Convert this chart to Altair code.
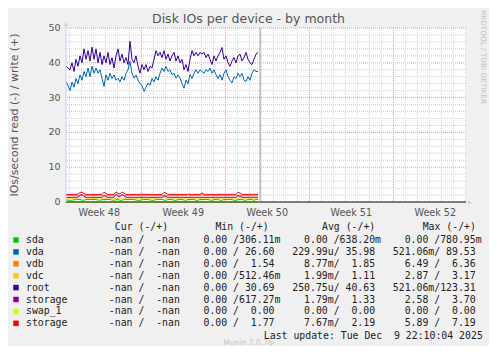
import altair as alt
import pandas as pd

# ---------------- data ----------------
STEP = 1 / 6            # one consolidated sample every 4 hours
N = 97
days = [round(i * STEP, 4) for i in range(N)]      # days since the left edge of the graph
SPAN = 400 / 12.0                                   # 33.3 days shown

root_w = [39, 38.5, 38, 40, 37.5, 41, 39, 42, 40, 44,
          41, 43.5, 40.5, 44.5, 41, 44, 40, 43, 39.5, 42,
          40, 43, 39.5, 41.5, 38.5, 42, 44, 40.5, 42.5, 40,
          41.5, 39.5, 46.2, 41, 40, 42, 39, 37, 39.5, 38,
          39.5, 37.5, 39, 38.5, 41, 43.5, 42, 43, 41.5, 43.5,
          41, 42.5, 40.5, 42, 43, 40.5, 42, 40, 41, 38,
          39.5, 37.5, 41, 43.5, 42, 43, 42, 43, 42.5, 43,
          41.5, 42.5, 41, 39.5, 42, 40.5, 42, 43, 44.4, 41,
          42, 40, 39, 40.5, 41.5, 40, 42, 42.5, 40.5, 41.5,
          43, 41, 40, 39.5, 41, 42.5, 43]

vda_w = [34.6, 33.5, 32, 34.5, 33, 35.5, 34, 36.5, 35, 37.5,
         36, 38.5, 36, 39, 37, 38.5, 37, 38, 35.5, 33.2,
         36.5, 35, 37, 35.5, 36.5, 35, 35.6, 34.5, 36, 35,
         37, 38, 40.4, 37, 35.6, 36.5, 35, 34, 33.5, 31.8,
         33, 34.2, 33.5, 35.5, 34.5, 36, 35, 37, 38.5, 37.5,
         39, 37.5, 38, 36.6, 37, 35.6, 36.5, 35.6, 34, 32.7,
         35, 34, 36.6, 35.5, 37, 38, 37, 38, 37.5, 37,
         38, 37.5, 38.5, 37, 38, 36.6, 35.5, 36.6, 35, 37,
         38, 36, 35, 34.2, 36, 35.5, 37, 36, 37, 35,
         34.6, 36, 35, 37, 38, 37.5, 37.5]

storage2_w = [2.2, 2.2, 2.15, 2.2, 2.2, 2.2, 2.25, 2.7, 2.9, 2.4,
              2.2, 2.2, 2.2, 2.15, 2.2, 2.2, 2.2, 2.2, 2.2, 2.8,
              2.4, 2.2, 2.2, 2.2, 2.2, 2.9, 2.5, 2.3, 2.9, 2.6,
              2.2, 2.2, 2.2, 2.15, 2.2, 2.2, 2.2, 2.2, 2.25, 2.2,
              2.2, 2.2, 2.2, 2.2, 2.2, 2.15, 2.2, 2.2, 2.2, 2.8,
              2.5, 2.2, 2.2, 2.2, 2.2, 2.2, 2.15, 2.2, 2.2, 2.2,
              2.2, 2.2, 2.2, 2.2, 2.2, 2.2, 2.2, 2.2, 2.6, 2.2,
              2.2, 2.2, 2.2, 2.2, 2.15, 2.2, 2.2, 2.2, 2.2, 2.2,
              2.2, 2.2, 2.2, 2.2, 2.2, 2.2, 2.8, 2.6, 2.2, 2.2,
              2.2, 2.2, 2.2, 2.25, 2.2, 2.2, 2.2]

storage1_w = [1.35, 1.35, 1.3, 1.35, 1.35, 1.35, 1.4, 1.9, 2.2, 1.6,
              1.35, 1.35, 1.35, 1.35, 1.35, 1.35, 1.35, 1.35, 1.35, 1.9,
              1.5, 1.35, 1.35, 1.35, 1.35, 2.2, 1.7, 1.5, 2.2, 1.8,
              1.35, 1.35, 1.35, 1.35, 1.35, 1.35, 1.35, 1.35, 1.35, 1.35,
              1.35, 1.35, 1.35, 1.35, 1.35, 1.35, 1.35, 1.35, 1.35, 1.8,
              1.5, 1.35, 1.35, 1.35, 1.35, 1.35, 1.35, 1.35, 1.35, 1.35,
              1.35, 1.35, 1.35, 1.35, 1.35, 1.35, 1.35, 1.35, 1.35, 1.35,
              1.35, 1.35, 1.35, 1.35, 1.35, 1.35, 1.35, 1.35, 1.35, 1.35,
              1.35, 1.35, 1.35, 1.35, 1.35, 1.35, 1.8, 1.6, 1.35, 1.35,
              1.35, 1.35, 1.35, 1.35, 1.35, 1.35, 1.35]

vdb_w = [1.85, 1.85, 1.85, 1.85, 1.85, 1.85, 1.85, 1.9, 1.85, 1.85,
         1.85, 1.85, 1.85, 1.85, 1.85, 1.85, 1.85, 1.85, 1.85, 1.9,
         1.85, 1.85, 1.85, 1.85, 1.85, 2.3, 1.9, 1.85, 1.85, 1.85,
         1.85, 1.85, 1.85, 1.85, 1.85, 1.85, 1.85, 1.85, 1.85, 1.85,
         1.85, 1.85, 1.85, 1.85, 1.85, 1.85, 1.85, 1.85, 1.85, 1.9,
         1.85, 1.85, 1.85, 1.85, 1.85, 1.85, 1.85, 1.85, 1.85, 1.85,
         1.85, 2.2, 1.85, 1.85, 1.85, 1.85, 1.85, 1.85, 2.2, 1.85,
         1.85, 1.85, 1.85, 1.85, 1.85, 1.85, 1.85, 1.85, 1.85, 1.85,
         1.85, 1.85, 1.85, 1.85, 1.85, 1.85, 1.9, 1.85, 1.85, 1.85,
         1.85, 1.85, 1.85, 1.85, 1.85, 1.85, 1.85]

vdc_w = [1.12, 1.12, 1.12, 1.12, 1.12, 1.12, 1.12, 1.2, 1.5, 1.2,
         1.12, 1.12, 1.12, 1.12, 1.12, 1.12, 1.12, 1.12, 1.12, 1.12,
         1.12, 1.12, 1.12, 1.12, 1.12, 1.12, 1.12, 1.12, 1.12, 1.12,
         1.12, 1.12, 1.12, 1.12, 1.12, 1.12, 1.12, 1.12, 1.12, 1.12,
         1.12, 1.12, 1.12, 1.12, 1.12, 1.12, 1.12, 1.12, 1.12, 1.4,
         1.12, 1.12, 1.12, 1.12, 1.12, 1.12, 1.12, 1.12, 1.12, 1.12,
         1.12, 1.12, 1.12, 1.12, 1.12, 1.12, 1.12, 1.12, 1.12, 1.12,
         1.12, 1.12, 1.12, 1.12, 1.12, 1.12, 1.12, 1.12, 1.12, 1.12,
         1.12, 1.12, 1.12, 1.12, 1.12, 1.12, 1.12, 1.12, 1.12, 1.12,
         1.12, 1.12, 1.12, 1.12, 1.12, 1.12, 1.12]

sda_w = [0.55, 0.55, 0.5, 0.5, 0.65, 0.65, 0.7, 0.7, 0.55, 0.5,
         0.7, 0.7, 0.7, 0.75, 0.7, 0.7, 0.55, 0.5, 0.65, 0.7,
         0.7, 0.75, 0.7, 0.55, 0.5, 0.65, 0.7, 0.5, 0.5, 0.7,
         0.7, 0.7, 0.75, 0.7, 0.7, 0.55, 0.5, 0.5, 0.65, 0.7,
         0.7, 0.7, 0.6, 0.5, 0.5, 0.7, 0.7, 0.7, 0.75, 0.55,
         0.5, 0.7, 0.7, 0.7, 0.5, 0.5, 0.7, 0.7, 0.7, 0.55,
         0.5, 0.7, 0.7, 0.75, 0.7, 0.5, 0.5, 0.7, 0.7, 0.7,
         0.75, 0.7, 0.55, 0.5, 0.7, 0.7, 0.7, 0.5, 0.5, 0.7,
         0.7, 0.7, 0.75, 0.7, 0.5, 0.5, 0.7, 0.7, 0.7, 0.55,
         0.5, 0.7, 0.7, 0.7, 0.5, 0.7, 0.7]

swap_days = [0.0, 16.0]
swap_w = [0.0, 0.0]

# axis / grid positions (days)
week_bounds = [6.275, 13.275, 20.275, 27.275]
week_label_pos = [2.775, 9.775, 16.775, 23.775, 30.775]
week_labels = ["Week 48", "Week 49", "Week 50", "Week 51", "Week 52"]
day_minor = [round(0.275 + k, 3) for k in range(34) if round(0.275 + k, 3) not in week_bounds]
y_major = [10, 20, 30, 40, 50]
y_minor = [v for v in range(2, 50, 2) if v % 10 != 0]
y_ticks = [0, 10, 20, 30, 40, 50]
y_tick_labels = ["0", "10", "20", "30", "40", "50"]
now_day = [16.17]

# legend table
names = ["sda", "vda", "vdb", "vdc", "root", "storage", "swap_1", "storage"]
colors = ["#00CC00", "#0066B3", "#FF8000", "#FFCC00", "#330099", "#990099", "#CCFF00", "#FF0000"]
min_r = ["0.00", "0.00", "0.00", "0.00", "0.00", "0.00", "0.00", "0.00"]
min_w = ["306.11m", "26.60", "1.54", "512.46m", "30.69", "617.27m", "0.00", "1.77"]
avg_r = ["0.00", "229.99u", "8.77m", "1.99m", "250.75u", "1.79m", "0.00", "7.67m"]
avg_w = ["638.20m", "35.98", "1.85", "1.11", "40.63", "1.33", "0.00", "2.19"]
max_r = ["0.00", "521.06m", "6.49", "2.87", "521.06m", "2.58", "0.00", "5.89"]
max_w = ["780.95m", "89.53", "6.36", "3.17", "123.31", "3.70", "0.00", "7.19"]
headers = ["Cur (-/+)", "Min (-/+)", "Avg (-/+)", "Max (-/+)"]
header_cols = [15, 32, 50, 67]

TITLE = "Disk IOs per device - by month"
YTITLE = "IOs/second read (-) / write (+)"
SIDE = "RRDTOOL / TOBI OETIKER"
UPDATE = "Last update: Tue Dec  9 22:10:04 2025"
VERSION = "Munin 2.0.76"

# ---------------- helpers ----------------
NB = "\u00a0"
CW = 5.92          # advance of one monospace character (px)


def fld(s):
    if s != "-nan" and s[-1].isalpha():
        return s[:-1].rjust(6) + s[-1]
    return s.rjust(6) + " "


def nb(s):
    return s.rstrip().replace(" ", NB)


W, H = 400, 174
xs = alt.Scale(domain=[0, SPAN], nice=False, zero=False)
ys = alt.Scale(domain=[0, 50], nice=False, zero=False)
GRAY = "#555555"
AXIS_BLUE = "#C6CEF2"


def xq(field="day"):
    return alt.X(f"{field}:Q", scale=xs, axis=None)


def yq(field="v"):
    return alt.Y(f"{field}:Q", scale=ys, axis=None)


# grid layers
minor_x = alt.Chart(pd.DataFrame({"day": day_minor})).mark_rule(
    color="#CFCFCF", strokeDash=[1, 1], strokeWidth=1).encode(x=xq())
minor_y = alt.Chart(pd.DataFrame({"v": y_minor})).mark_rule(
    color="#CFCFCF", strokeDash=[1, 1], strokeWidth=1).encode(y=yq())
major_x = alt.Chart(pd.DataFrame({"day": week_bounds})).mark_rule(
    color="#E6A0A0", strokeDash=[1, 1], strokeWidth=1).encode(x=xq())
major_y = alt.Chart(pd.DataFrame({"v": y_major})).mark_rule(
    color="#E6A0A0", strokeDash=[1, 1], strokeWidth=1).encode(y=yq())

# axis labels drawn through the scales
ylabels = alt.Chart(pd.DataFrame({"v": y_ticks, "t": y_tick_labels})).mark_text(
    font="DejaVu Sans", fontSize=9.5, color=GRAY, align="right", baseline="middle"
).encode(y=yq(), x=alt.value(-5.5), text="t:N")
xlabels = alt.Chart(pd.DataFrame({"day": week_label_pos, "t": week_labels})).mark_text(
    font="DejaVu Sans", fontSize=9.6, color=GRAY, align="center", baseline="middle"
).encode(x=xq(), y=alt.value(184.7), text="t:N")

y_axis_line = alt.Chart(pd.DataFrame({"a": [1]})).mark_rule(color=AXIS_BLUE, strokeWidth=1).encode(
    x=alt.value(0), y=alt.value(-2), y2=alt.value(174))

# data lines, in munin drawing order
series = [
    ("sda", "#00CC00", days, sda_w),
    ("vda", "#0066B3", days, vda_w),
    ("vdb", "#FF8000", days, vdb_w),
    ("vdc", "#FFCC00", days, vdc_w),
    ("root", "#330099", days, root_w),
    ("storage", "#990099", days, storage1_w),
    ("swap_1", "#CCFF00", swap_days, swap_w),
    ("storage", "#FF0000", days, storage2_w),
]
line_layers = []
for name, col, dd, vals in series:
    df = pd.DataFrame({"day": dd, "v": vals})
    line_layers.append(
        alt.Chart(df).mark_line(color=col, strokeWidth=1, interpolate="linear").encode(x=xq(), y=yq())
    )

zero_line = alt.Chart(pd.DataFrame({"v": [0]})).mark_rule(color="#000000", strokeWidth=1).encode(y=yq())
now_rule = alt.Chart(pd.DataFrame({"day": now_day})).mark_rule(color="#999999", strokeWidth=1).encode(x=xq())

# arrows at axis ends
arrow_df = pd.DataFrame({"a": [1]})
arrow_up = alt.Chart(arrow_df).mark_point(
    shape="triangle-up", filled=True, color=AXIS_BLUE, size=18, opacity=1
).encode(x=alt.value(0), y=alt.value(-4))
arrow_right = alt.Chart(arrow_df).mark_point(
    shape="triangle-right", filled=True, color=AXIS_BLUE, size=18, opacity=1
).encode(x=alt.value(404), y=alt.value(174.5))


def text_layer(txt, px, py, size, color, font="DejaVu Sans", angle=0, align="center"):
    kw = dict(font=font, fontSize=size, color=color, align=align, baseline="middle")
    if angle:
        kw["angle"] = angle
    return alt.Chart(pd.DataFrame({"t": [txt]})).mark_text(**kw).encode(
        text="t:N", x=alt.value(px), y=alt.value(py)
    )


title = text_layer(TITLE, 182.5, -9, 12.5, GRAY)
ytitle = text_layer(YTITLE, -51.5, 87, 10.9, GRAY, angle=270)
side = text_layer(SIDE, 416.5, 29, 7.3, "#C4C4C4", angle=90)
version = text_layer(VERSION, 182, 314.5, 7.6, "#C4C4C4")
update = text_layer(nb(UPDATE), 416.8, 307.7, 9.83, "#222222", font="DejaVu Sans Mono", align="right")

LEG_X = -40
LEG_Y0 = 212
LEG_DY = 11.9
rows = []
for i, n in enumerate(names):
    s = (n.ljust(12) + fld("-nan") + "/" + fld("-nan") + " " + fld(min_r[i]) + "/" + fld(min_w[i])
         + "  " + fld(avg_r[i]) + "/" + fld(avg_w[i]) + "  " + fld(max_r[i]) + "/" + fld(max_w[i]))
    rows.append(nb(s))
leg_df = pd.DataFrame({
    "t": [nb(h) for h in headers] + rows,
    "px": [LEG_X + c * CW for c in header_cols] + [LEG_X] * len(rows),
    "py": [LEG_Y0 - 12.7] * len(headers) + [LEG_Y0 + i * LEG_DY for i in range(len(rows))],
})
legend_text = alt.Chart(leg_df).mark_text(
    font="DejaVu Sans Mono", fontSize=9.83, color="#222222", align="left", baseline="middle"
).encode(
    text="t:N",
    x=alt.X("px:Q", scale=None, axis=None),
    y=alt.Y("py:Q", scale=None, axis=None),
)
sw_df = pd.DataFrame({
    "c": colors,
    "px": [-50] * len(colors),
    "py": [LEG_Y0 + i * LEG_DY for i in range(len(colors))],
})
swatches = alt.Chart(sw_df).mark_square(size=30, opacity=1).encode(
    color=alt.Color("c:N", scale=None, legend=None),
    x=alt.X("px:Q", scale=None, axis=None),
    y=alt.Y("py:Q", scale=None, axis=None),
)

chart = alt.layer(
    minor_x, minor_y, major_x, major_y, *line_layers, zero_line, now_rule, y_axis_line,
    arrow_up, arrow_right, ylabels, xlabels, title, ytitle, side, version, update,
    legend_text, swatches
).properties(
    width=W, height=H,
    padding={"left": 58, "top": 20, "right": 23, "bottom": 144},
    autosize=alt.AutoSizeParams(type="none"),
).configure(background="#F0F0F0").configure_view(fill="white", strokeWidth=0)

chart.save("out.html", embed_options={"renderer": "svg", "actions": False})
